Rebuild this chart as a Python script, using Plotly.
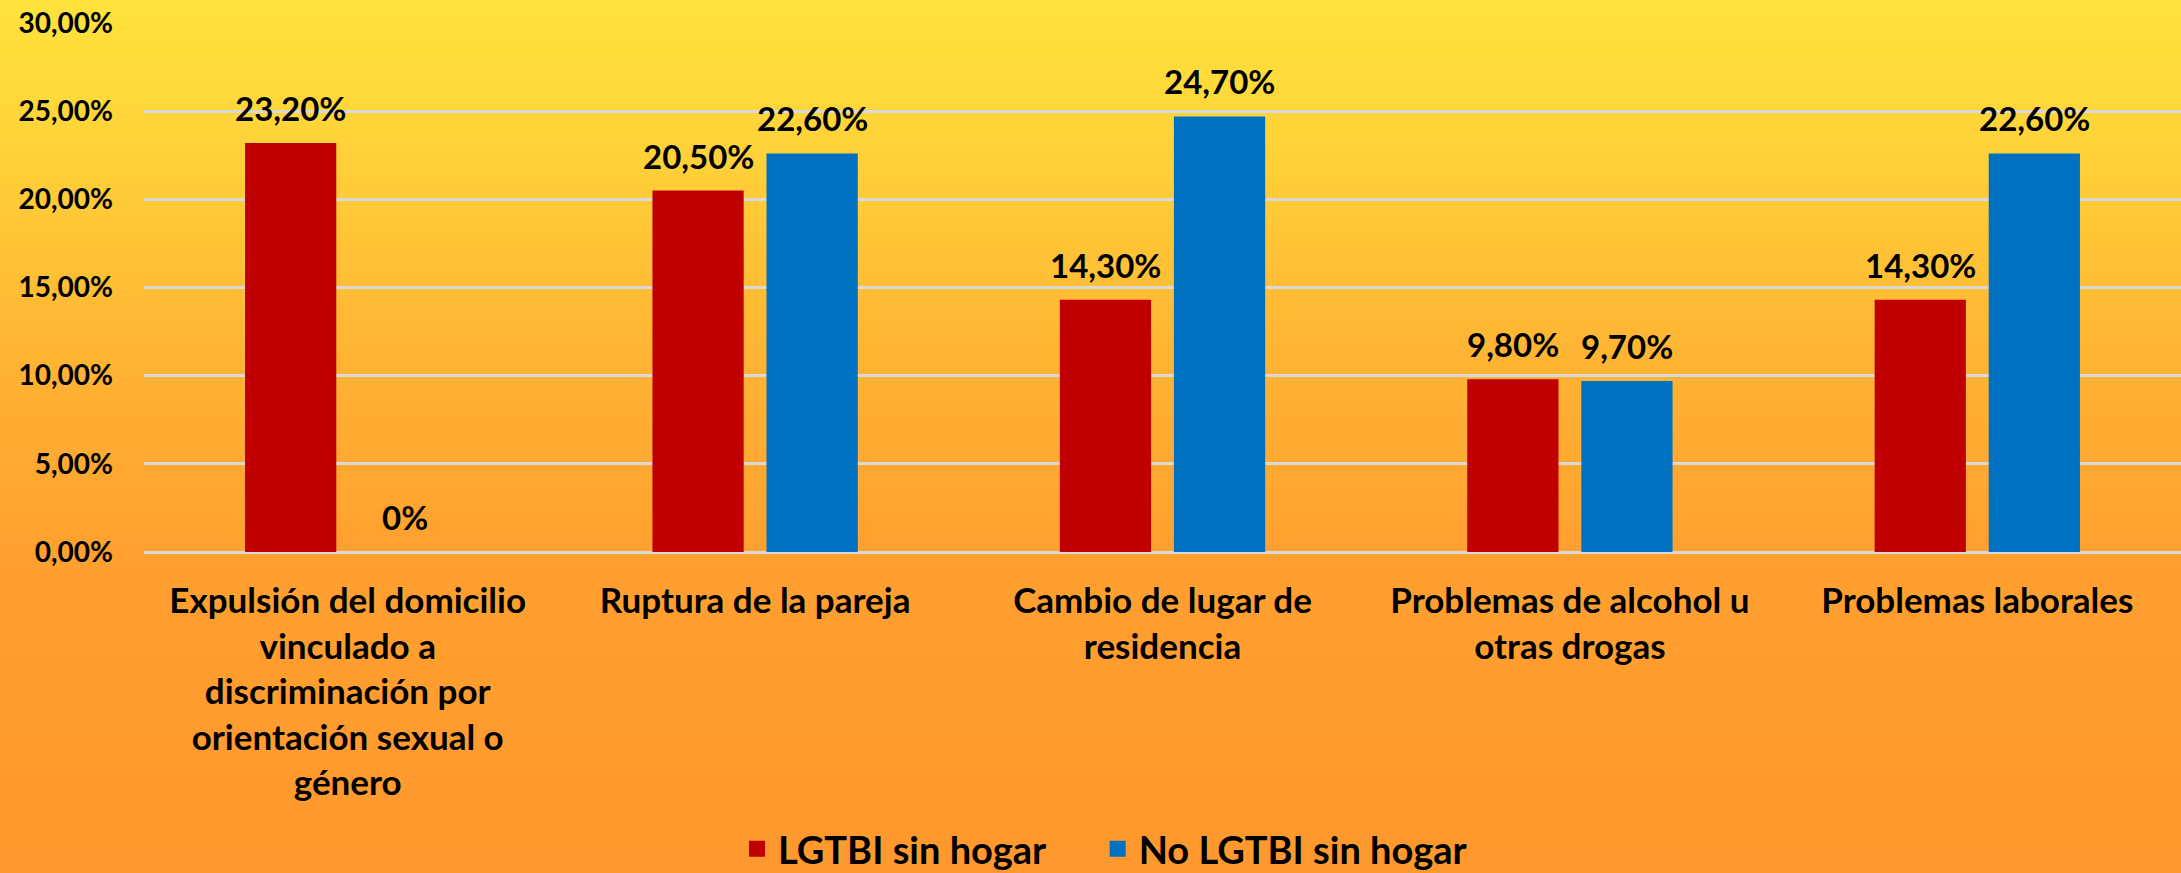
import plotly.graph_objects as go

categories = [
    "Expulsión del domicilio<br>vinculado a<br>discriminación por<br>orientación sexual o<br>género",
    "Ruptura de la pareja",
    "Cambio de lugar de<br>residencia",
    "Problemas de alcohol u<br>otras drogas",
    "Problemas laborales",
]
lgtbi = [0.232, 0.205, 0.143, 0.098, 0.143]
no_lgtbi = [0.0, 0.226, 0.247, 0.097, 0.226]
lgtbi_labels = ["23,20%", "20,50%", "14,30%", "9,80%", "14,30%"]
no_lgtbi_labels = ["0%", "22,60%", "24,70%", "9,70%", "22,60%"]
series_names = ["LGTBI sin hogar", "No LGTBI sin hogar"]
y_ticks = [0, 0.05, 0.10, 0.15, 0.20, 0.25, 0.30]

RED = "#C00000"
BLUE = "#0070C0"
FONT = "Lato"

W, H = 2181, 873
ML, MR, MT, MB = 144, 0, 23, 321
pw, ph = W - ML - MR, H - MT - MB

fig = go.Figure()
for vals, col, nm in [(lgtbi, RED, series_names[0]), (no_lgtbi, BLUE, series_names[1])]:
    fig.add_trace(go.Bar(
        x=categories, y=vals, name=nm,
        marker=dict(color=col, line=dict(width=0)),
        showlegend=False,
    ))

# data labels, placed on each bar's value
BAR_OFFSET = 57
annotations = []
for vals, labels, sh in [(lgtbi, lgtbi_labels, -BAR_OFFSET), (no_lgtbi, no_lgtbi_labels, BAR_OFFSET)]:
    for c, v, t in zip(categories, vals, labels):
        annotations.append(dict(
            x=c, y=v, xref="x", yref="y", text=t, showarrow=False,
            xshift=sh, yshift=13, yanchor="bottom", xanchor="center",
            font=dict(size=33, color="black", family=FONT, weight="bold"),
        ))

# legend proxies
legend_labels = [series_names[0] + "\u00a0" * 5, series_names[1]]
for nm, col in zip(legend_labels, [RED, BLUE]):
    fig.add_trace(go.Scatter(
        x=[None], y=[None], mode="markers", name=nm,
        marker=dict(symbol="square", size=23, color=col),
    ))

# vertical gradient background
stops = [(0, (255, 227, 60)), (150, (255, 210, 57)), (330, (255, 183, 52)),
         (550, (255, 160, 48)), (873, (255, 152, 46))]

def col_at(y):
    for (y0, c0), (y1, c1) in zip(stops[:-1], stops[1:]):
        if y0 <= y <= y1:
            t = (y - y0) / (y1 - y0)
            return tuple(round(a + (b - a) * t) for a, b in zip(c0, c1))
    return stops[-1][1]

shapes = []
N = 146
for i in range(N):
    ytop = H * i / N
    ybot = H * (i + 1) / N
    c = col_at((ytop + ybot) / 2)
    y0 = 1 - (ybot - MT) / ph - 0.001
    y1 = 1 - (ytop - MT) / ph + 0.001
    if i == 0:
        y1 = 3
    if i == N - 1:
        y0 = -3
    shapes.append(dict(
        type="rect", xref="paper", yref="paper", layer="below",
        x0=-1, x1=2, y0=y0, y1=y1,
        fillcolor="rgb(%d,%d,%d)" % c, line=dict(width=0),
    ))

fig.update_layout(
    width=W, height=H,
    margin=dict(l=ML, r=MR, t=MT, b=MB),
    paper_bgcolor="rgb(255,152,46)", plot_bgcolor="rgba(0,0,0,0)",
    separators=",.",
    font=dict(family=FONT, color="black", size=28, weight="bold"),
    barmode="group", bargap=0.44, bargroupgap=0.2,
    shapes=shapes,
    annotations=annotations,
    legend=dict(
        orientation="h", x=(736 - ML) / pw, xanchor="left",
        yref="container", y=(H - 849) / H, yanchor="middle",
        font=dict(size=38, family=FONT, weight="bold", color="black"),
        bgcolor="rgba(0,0,0,0)", itemwidth=32,
    ),
    xaxis=dict(
        tickfont=dict(size=35, family=FONT, weight="bold", color="black"),
        showline=False, showgrid=False, ticks="", ticklabelstandoff=25,
    ),
    yaxis=dict(
        range=[0, 0.30], tickvals=y_ticks, tickformat=".2%",
        tickfont=dict(size=28, family=FONT, weight="bold", color="black"),
        showgrid=True, gridcolor="#D9D9D9", gridwidth=2.5,
        zeroline=True, zerolinecolor="#D9D9D9", zerolinewidth=2.5,
        showline=False, ticks="", ticklabelstandoff=30,
    ),
)

fig.write_html(
    "out.html",
    config={"displayModeBar": False},
    post_script="document.body.style.margin='0';document.body.style.overflow='hidden';",
)
